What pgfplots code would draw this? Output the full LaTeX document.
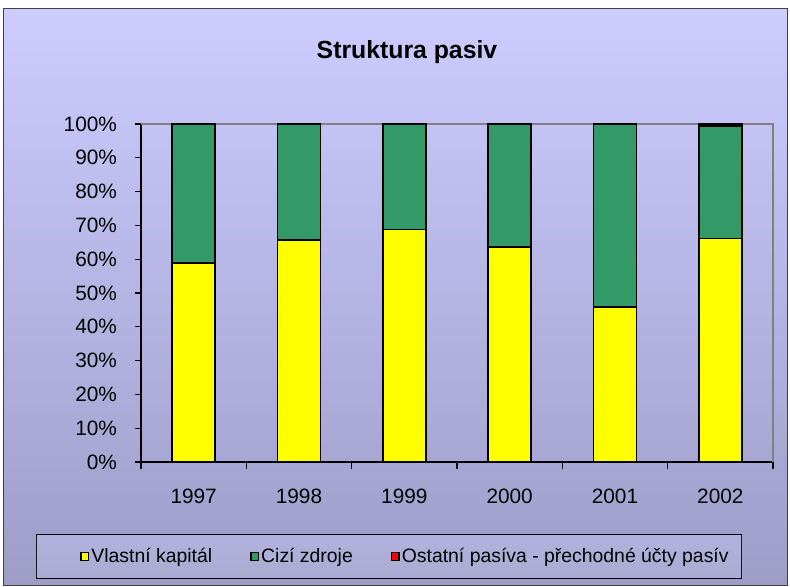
\documentclass[border=0pt]{standalone}
\usepackage{pgfplots}
\pgfplotsset{compat=1.18}
\usepackage{fontspec}
\setmainfont{Liberation Sans}
\definecolor{bgtop}{RGB}{204,204,255}
\definecolor{bgbot}{RGB}{158,157,200}
\definecolor{vk}{RGB}{255,255,0}
\definecolor{cz}{RGB}{51,153,102}
\definecolor{op}{RGB}{255,0,0}
\definecolor{lgtop}{RGB}{178,178,222}
\definecolor{lgmid}{RGB}{204,204,255}
\definecolor{lgbot}{RGB}{170,170,210}
\begin{document}
\begin{tikzpicture}
\useasboundingbox (0,0) rectangle (395pt,293pt);
\fill[white] (0,0) rectangle (395pt,293pt);
\shade[top color=bgtop, bottom color=bgbot] (1.5pt,0.5pt) rectangle (393.5pt,289pt);
\draw[black!75, line width=0.5pt] (1.5pt,0.5pt) rectangle (393.5pt,289pt);
\node[font=\bfseries\fontsize{12.4}{14}\selectfont] at (203.5pt,267pt) {Struktura pasiv};
\begin{axis}[
  at={(70.5pt,62pt)}, anchor=south west,
  scale only axis, width=316pt, height=169pt,
  ybar stacked, bar width=21.5pt,
  xmin=-0.5, xmax=5.5, ymin=0, ymax=100,
  axis x line*=bottom, axis y line*=left,
  axis line style={black, line width=0.6pt},
  xtick={0,1,2,3,4,5},
  xticklabels={1997,1998,1999,2000,2001,2002},
  major x tick style={draw=none},
  minor xtick={-0.5,0.5,1.5,2.5,3.5,4.5,5.5},
  minor tick length=3.5pt,
  minor x tick style={black, line width=0.6pt},
  ytick={0,10,...,100},
  yticklabels={0\%,10\%,20\%,30\%,40\%,50\%,60\%,70\%,80\%,90\%,100\%},
  tick align=outside, major tick length=3pt,
  major y tick style={black, line width=0.6pt},
  tick label style={font=\fontsize{10.4}{12}\selectfont},
  yticklabel style={xshift=-5.5pt},
  xticklabel style={yshift=-7pt},
  /pgf/number format/assume math mode=true,
  legend columns=3,
  legend style={at={(-0.0965,-0.2796)}, anchor=west,
    draw=none, fill=none,
    font=\fontsize{9.7}{12}\selectfont,
    inner xsep=0pt, inner ysep=2pt,
    nodes={inner xsep=1pt},
    /tikz/every even column/.append style={column sep=18pt}},
  legend image code/.code={\draw[#1, draw=black, line width=0.7pt] (0pt,-1.9pt) rectangle (3.8pt,1.9pt);},
  every axis plot/.append style={draw=black, line width=0.8pt},
  clip=false,
]
\shade[top color=lgtop, middle color=lgmid, bottom color=lgbot]
  (rel axis cs:-0.1646,-0.216) rectangle (rel axis cs:0.9494,-0.343);
\draw[black, line width=0.75pt] (rel axis cs:-0.1646,-0.216) rectangle (rel axis cs:0.9494,-0.343);
\addplot[fill=vk] coordinates {(0,58.8) (1,65.7) (2,68.8) (3,63.7) (4,45.9) (5,66.1)};
\addplot[fill=cz] coordinates {(0,41.2) (1,34.3) (2,31.2) (3,36.3) (4,54.1) (5,33.3)};
\addplot[fill=op] coordinates {(0,0) (1,0) (2,0) (3,0) (4,0) (5,0.6)};
\legend{Vlastní kapitál, Cizí zdroje, Ostatní pasíva - přechodné účty pasív}
\draw[black!50, line width=0.8pt] (rel axis cs:0,1) -- (rel axis cs:1,1) -- (rel axis cs:1,0);
\end{axis}
\end{tikzpicture}
\end{document}
